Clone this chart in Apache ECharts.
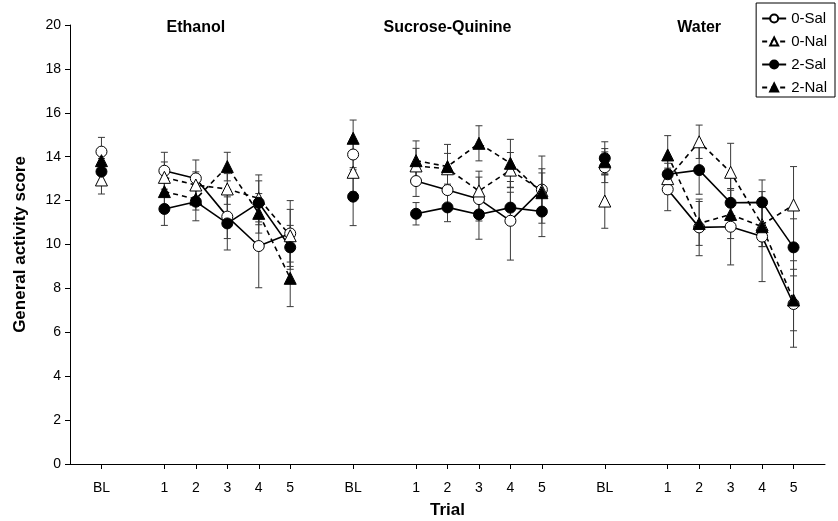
<!DOCTYPE html>
<html>
<head>
<meta charset="utf-8">
<style>
  html, body { margin: 0; padding: 0; background: #fff; }
  #chart { width: 838px; height: 521px; }
</style>
<script src="https://cdn.jsdelivr.net/npm/echarts@6/dist/echarts.min.js"></script>
</head>
<body>
<div id="chart"></div>
<script>
// Panels (solutions) and the trial labels used inside each panel
const panels = ['Ethanol', 'Sucrose-Quinine', 'Water'];
const trialLabels = ['BL', '1', '2', '3', '4', '5'];

// Group means, per panel in order BL,1,2,3,4,5
const sal0 = [14.23, 13.36, 13.01, 11.27, 9.93, 10.5,  14.1, 12.89, 12.48, 12.07, 11.08, 12.5,  13.52, 12.51, 10.78, 10.81, 10.36, 7.29];
const nal0 = [12.94, 13.06, 12.71, 12.53, 12.1, 10.4,  13.29, 13.58, 13.45, 12.44, 13.39, 12.45, 11.98, 13.0, 14.68, 13.29, 10.9, 11.8];
const sal2 = [13.32, 11.62, 11.95, 10.96, 11.9, 9.87,  12.18, 11.4, 11.69, 11.37, 11.68, 11.5,  13.93, 13.2, 13.39, 11.9, 11.92, 9.87];
const nal2 = [13.82, 12.41, 12.07, 13.55, 11.42, 8.46, 14.84, 13.82, 13.55, 14.61, 13.7, 12.36, 13.77, 14.08, 10.96, 11.37, 10.81, 7.47];

// Standard errors
const sal0Err = [0.65, 0.84, 0.84, 1.0, 1.9, 1.5,   0.7, 0.7, 0.8, 1.0, 1.79, 1.53,  0.7, 0.97, 1.29, 1.74, 2.05, 1.97];
const nal0Err = [0.64, 0.7, 0.6, 0.7, 1.07, 1.2,    0.9, 0.8, 0.7, 0.9, 0.8, 1.0,    1.24, 0.7, 0.76, 1.32, 1.0, 1.75];
const sal2Err = [0.6, 0.75, 0.87, 1.21, 1.0, 1.0,   1.32, 0.51, 0.65, 1.13, 0.7, 1.14, 0.75, 0.8, 1.1, 1.2, 1.02, 1.3];
const nal2Err = [0.55, 0.6, 0.5, 0.65, 0.9, 1.29,   0.83, 0.9, 1.01, 0.8, 1.09, 0.9,  0.6, 0.88, 1.0, 1.1, 0.9, 1.4];

// Y axis ticks
const yTicks = [0, 2, 4, 6, 8, 10, 12, 14, 16, 18, 20];

// x position of each trial slot: BL sits apart from trials 1-5, panels are 8 units apart
const slotPos = [0, 2, 3, 4, 5, 6];
const panelStep = 8;
const xPositions = [];
const xLabelAt = {};
panels.forEach((p, pi) => {
  slotPos.forEach((s, si) => {
    const x = pi * panelStep + s;
    xPositions.push(x);
    xLabelAt[x] = trialLabels[si];
  });
});

// Line data: BL is shown as a lone point, trials 1-5 are joined
function lineData(values) {
  const out = [];
  values.forEach((v, i) => {
    const si = i % trialLabels.length;
    if (si === 0 && i > 0) out.push([xPositions[i] - 1, '-']);
    out.push([xPositions[i], v]);
    if (si === 0) out.push([xPositions[i] + 1, '-']);
  });
  return out;
}
function errData(values, errs) {
  return values.map((v, i) => [xPositions[i], v, errs[i]]);
}

const FONT = 'Liberation Sans, Arial, sans-serif';
const groups = [
  { name: '0-Sal', vals: sal0, errs: sal0Err, symbol: 'circle', size: 11, fill: '#fff', dash: 'solid' },
  { name: '0-Nal', vals: nal0, errs: nal0Err, symbol: 'triangle', size: 12, fill: '#fff', dash: [5, 4] },
  { name: '2-Sal', vals: sal2, errs: sal2Err, symbol: 'circle', size: 11, fill: '#000', dash: 'solid' },
  { name: '2-Nal', vals: nal2, errs: nal2Err, symbol: 'triangle', size: 12, fill: '#000', dash: [5, 4] }
];

function renderErr(params, api) {
  const x = api.value(0), y = api.value(1), e = api.value(2);
  const top = api.coord([x, y + e]);
  const bot = api.coord([x, y - e]);
  const cap = 3.5;
  const style = { stroke: '#3a3a3a', lineWidth: 1 };
  return {
    type: 'group',
    children: [
      { type: 'line', shape: { x1: top[0], y1: top[1], x2: bot[0], y2: bot[1] }, style },
      { type: 'line', shape: { x1: top[0] - cap, y1: top[1], x2: top[0] + cap, y2: top[1] }, style },
      { type: 'line', shape: { x1: bot[0] - cap, y1: bot[1], x2: bot[0] + cap, y2: bot[1] }, style }
    ]
  };
}

const series = [];
groups.forEach(g => {
  series.push({
    type: 'custom',
    name: g.name + ' SEM',
    renderItem: renderErr,
    data: errData(g.vals, g.errs),
    z: 1,
    silent: true
  });
});
groups.forEach(g => {
  series.push({
    type: 'line',
    name: g.name,
    data: lineData(g.vals),
    connectNulls: false,
    symbol: g.symbol,
    symbolSize: g.size,
    showAllSymbol: true,
    itemStyle: { color: g.fill, borderColor: '#000', borderWidth: 1 },
    lineStyle: { color: '#000', width: 1.6, type: g.dash },
    z: 3,
    animation: false
  });
});

const chart = echarts.init(document.getElementById('chart'), null, { renderer: 'canvas' });
chart.setOption({
  animation: false,
  backgroundColor: '#fff',
  grid: { left: 70, right: 13, top: 25, bottom: 57, containLabel: false, outerBoundsMode: 'none' },
  legend: {
    data: groups.map(g => g.name),
    orient: 'vertical',
    right: 3,
    top: 3,
    padding: [8, 8, 2, 5],
    itemGap: 8,
    itemWidth: 24,
    itemHeight: 10,
    borderColor: '#000',
    borderWidth: 1,
    borderRadius: 0,
    selectedMode: false,
    textStyle: { fontFamily: FONT, fontSize: 15, color: '#000' }
  },
  xAxis: {
    type: 'value',
    min: -1,
    max: 23,
    name: 'Trial',
    nameLocation: 'middle',
    nameGap: 38,
    nameTextStyle: { fontFamily: FONT, fontSize: 17, fontWeight: 'bold', color: '#000' },
    splitLine: { show: false },
    axisLine: { onZero: false, lineStyle: { color: '#000', width: 1 } },
    axisTick: { show: true, length: 5, customValues: xPositions, lineStyle: { color: '#000' } },
    axisLabel: {
      customValues: xPositions,
      formatter: v => xLabelAt[v] || '',
      fontFamily: FONT, fontSize: 14, color: '#000', margin: 17
    }
  },
  yAxis: {
    type: 'value',
    min: 0,
    max: 20,
    interval: 2,
    name: 'General activity score',
    nameLocation: 'middle',
    nameGap: 41,
    nameTextStyle: { fontFamily: FONT, fontSize: 17, fontWeight: 'bold', color: '#000' },
    splitLine: { show: false },
    axisLine: { show: true, onZero: false, lineStyle: { color: '#000', width: 1 } },
    axisTick: { show: true, length: 5, lineStyle: { color: '#000' } },
    axisLabel: {
      customValues: yTicks,
      fontFamily: FONT, fontSize: 14, color: '#000', margin: 9
    }
  },
  series: series
});

// Panel headings, centred over each panel's BL..5 span
const headings = panels.map((p, pi) => {
  const cx = pi * panelStep + (slotPos[0] + slotPos[slotPos.length - 1]) / 2;
  const pt = chart.convertToPixel({ gridIndex: 0 }, [cx, 20]);
  return {
    type: 'text',
    x: pt[0],
    y: pt[1] + 3,
    style: {
      text: p,
      fontFamily: FONT,
      fontSize: 16,
      fontWeight: 'bold',
      fill: '#000',
      align: 'center',
      verticalAlign: 'middle'
    }
  };
});
chart.setOption({ graphic: headings });
</script>
</body>
</html>
